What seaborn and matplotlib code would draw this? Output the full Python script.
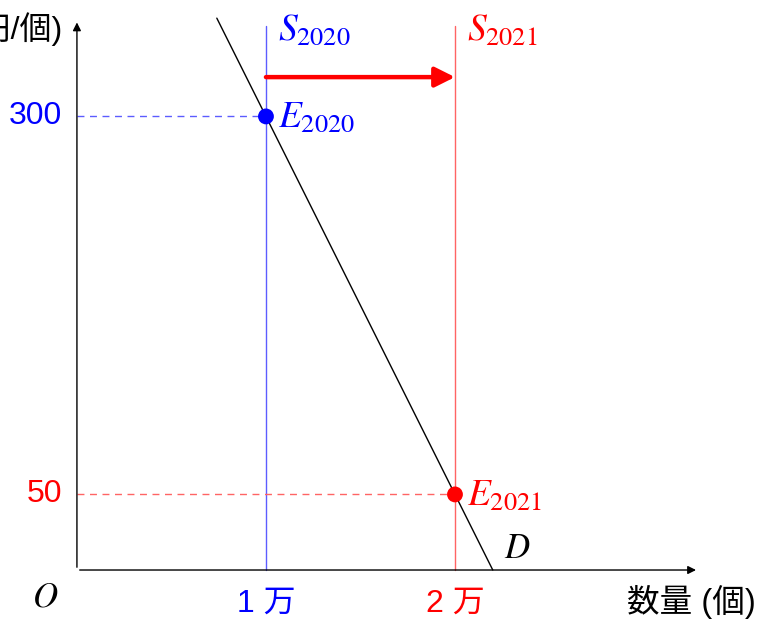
import numpy as np
import pandas as pd
import matplotlib
matplotlib.use("Agg")
import matplotlib.pyplot as plt
import seaborn as sns

# data
years = ["2020", "2021"]
quantities = [1, 2]          # 万個
prices = [300, 50]           # 円/個
colors = ["blue", "red"]
light_colors = ["#5c5cff", "#ff6464"]
tick_labels = ["1 万", "2 万"]

# demand line D passes through both equilibria
demand_q = [0.74, 2.2]
demand_p = [365, 0]

sns.set_theme(style="white")
plt.rcParams["font.family"] = ["Liberation Sans", "Noto Sans CJK JP", "DejaVu Sans"]
plt.rcParams["mathtext.fontset"] = "stix"

fig = plt.figure(figsize=(7.61, 6.19), dpi=100)
ax = fig.add_axes([0, 0, 1, 1])
ax.set_xlim(-0.407, 3.619)
ax.set_ylim(-32.4, 377)
ax.axis("off")

# axes with arrows
ax.annotate("", xy=(3.29, 0), xytext=(0, 0),
            arrowprops=dict(arrowstyle="-|>", color="black", lw=1, mutation_scale=12))
ax.annotate("", xy=(0, 364), xytext=(0, 0),
            arrowprops=dict(arrowstyle="-|>", color="black", lw=1, mutation_scale=12))

# supply lines
for q, c in zip(quantities, light_colors):
    ax.plot([q, q], [0, 360], color=c, lw=1)

# dashed guides
for q, p, c in zip(quantities, prices, light_colors):
    ax.plot([0, q], [p, p], color=c, lw=1, ls=(0, (5, 4)))

# demand
dem = pd.DataFrame({"q": demand_q, "p": demand_p})
sns.lineplot(data=dem, x="q", y="p", color="black", lw=1, ax=ax)

# shift arrow
ax.annotate("", xy=(quantities[1], 326), xytext=(quantities[0], 326),
            arrowprops=dict(arrowstyle="-|>", color="red", lw=3.2,
                            mutation_scale=30, shrinkA=0, shrinkB=0))

# equilibria
pts = pd.DataFrame({"q": quantities, "p": prices, "year": years})
sns.scatterplot(data=pts, x="q", y="p", hue="year", palette=colors, s=130,
                edgecolor="none", legend=False, ax=ax, zorder=5)

for q, p, y, c in zip(quantities, prices, years, colors):
    ax.text(q + 0.063, p, r"$E_{%s}$" % y, color=c, fontsize=27,
            va="center", ha="left")
    ax.text(q + 0.063, 357, r"$S_{%s}$" % y, color=c, fontsize=27,
            va="center", ha="left")

ax.text(2.26, 14, r"$D$", color="black", fontsize=25, va="center", ha="left")
ax.text(-0.17, -18, r"$O$", color="black", fontsize=25, va="center", ha="center")

# tick labels
for q, lab, c in zip(quantities, tick_labels, colors):
    ax.text(q, -22, lab, color=c, fontsize=23, va="center", ha="center")
for p, c in zip(prices, colors):
    ax.text(-0.08, p, str(p), color=c, fontsize=23, va="center", ha="right")

ax.text(-0.08, 358, "価格 (円/個)", color="black", fontsize=23, va="center", ha="right")
ax.text(2.91, -21, "数量 (個)", color="black", fontsize=23.5, va="center", ha="left")

fig.savefig("out.png", dpi=100)
